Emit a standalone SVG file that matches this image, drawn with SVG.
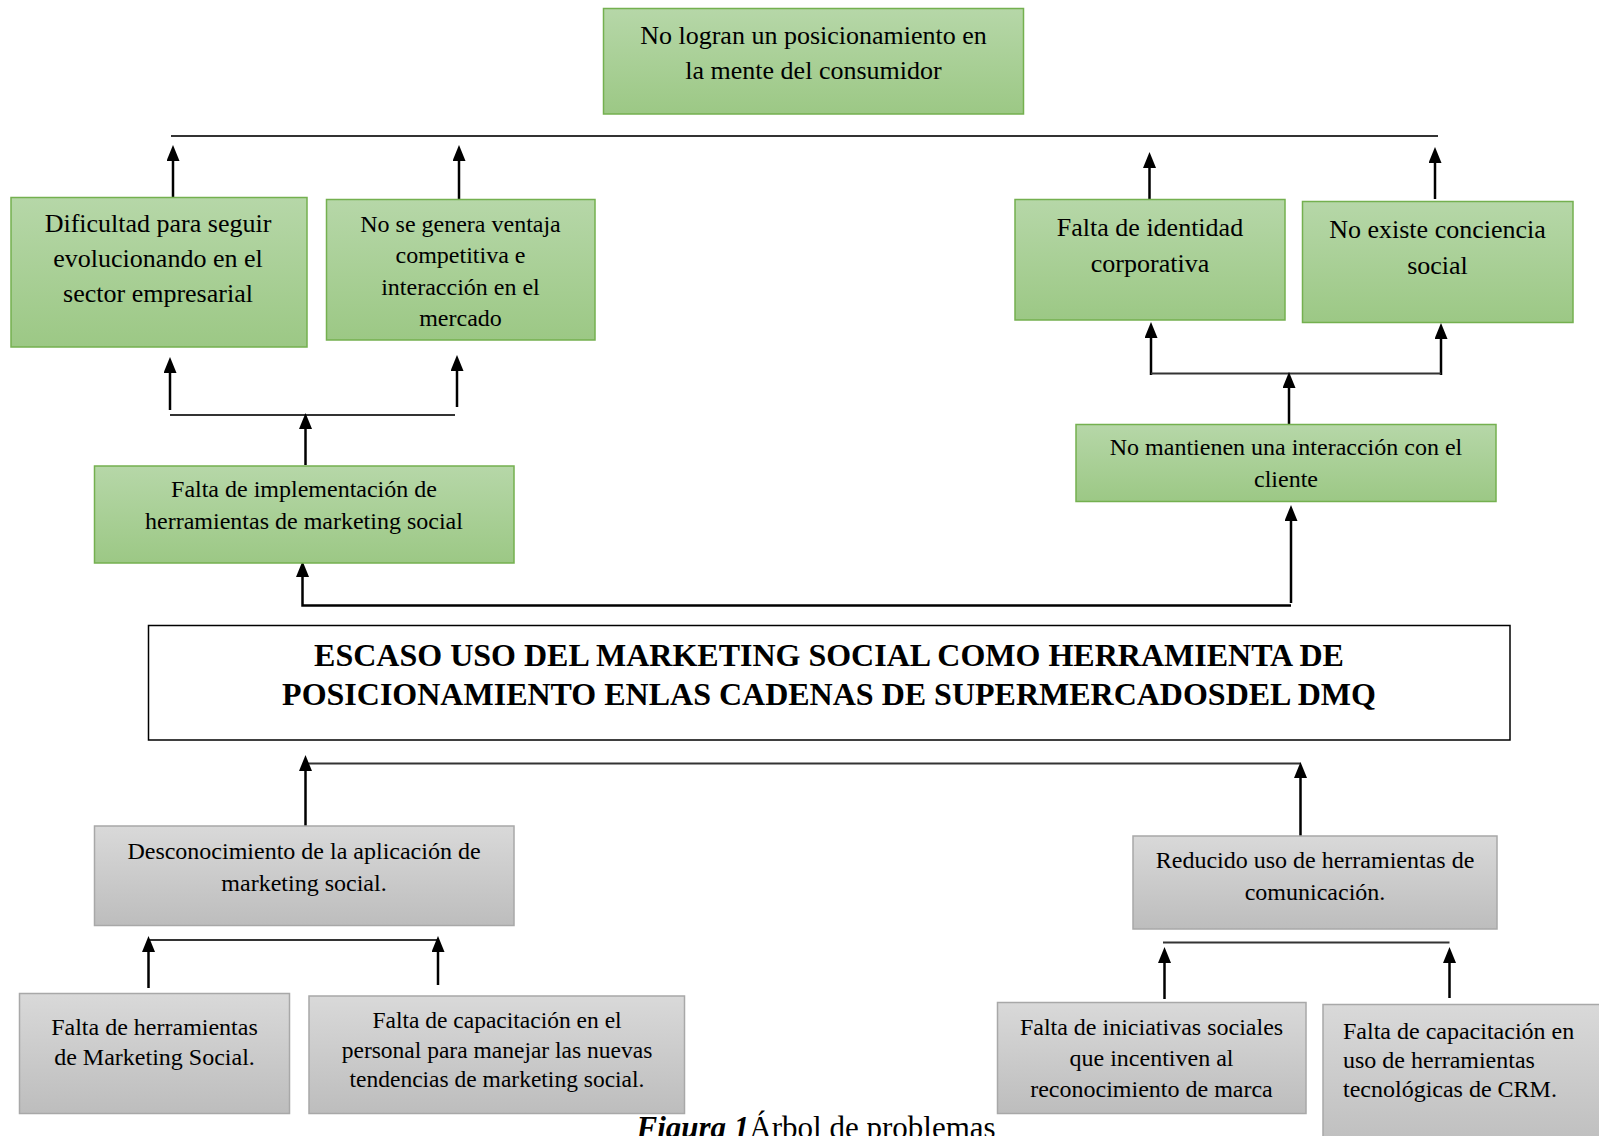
<svg xmlns="http://www.w3.org/2000/svg" width="1599" height="1136" viewBox="0 0 1599 1136">
<defs>
<linearGradient id="gGreen" x1="0" y1="0" x2="0" y2="1">
<stop offset="0" stop-color="#b6d7a8"/>
<stop offset="1" stop-color="#9cc885"/>
</linearGradient>
<linearGradient id="gGray" x1="0" y1="0" x2="0" y2="1">
<stop offset="0" stop-color="#d9d9d9"/>
<stop offset="1" stop-color="#bdbdbd"/>
</linearGradient>
<marker id="ah" viewBox="0 0 16 13" refX="0" refY="6.5" markerWidth="16" markerHeight="13" markerUnits="userSpaceOnUse" orient="auto">
<path d="M0,0 L16,6.5 L0,13 Z" fill="#000"/>
</marker>
</defs>
<style>
.green{fill:url(#gGreen);stroke:#74b04f;stroke-width:1.5}
.gray{fill:url(#gGray);stroke:#a8a8a8;stroke-width:1.5}
.main{fill:#fff;stroke:#000;stroke-width:1.5}
text{font-family:"Liberation Serif","Times New Roman",serif;fill:#000}
.t26{font-size:26px;text-anchor:middle}
.t24{font-size:24px;text-anchor:middle}
.t23{font-size:23.5px;text-anchor:middle}
.tl{font-size:24px}
.title{font-size:32px;font-weight:bold;text-anchor:middle}
.arr{stroke:#000;stroke-width:2.5;fill:none}
.hl{stroke:#333;stroke-width:2;fill:none}
</style>
<rect width="1599" height="1136" fill="#fff"/>

<g id="connectors">
<line class="hl" x1="171" y1="136" x2="1438" y2="136"/>
<path class="arr" d="M173,197 V161" marker-end="url(#ah)"/>
<path class="arr" d="M459,199 V161" marker-end="url(#ah)"/>
<path class="arr" d="M1149.5,199 V168" marker-end="url(#ah)"/>
<path class="arr" d="M1435,199 V163" marker-end="url(#ah)"/>

<path class="arr" d="M170,410 V373" marker-end="url(#ah)"/>
<path class="arr" d="M457,407 V371" marker-end="url(#ah)"/>
<line class="hl" x1="170" y1="415" x2="455" y2="415"/>
<path class="arr" d="M305.5,465 V429" marker-end="url(#ah)"/>

<path class="arr" d="M1291,605.5 H302.5 V577" marker-end="url(#ah)"/>
<path class="arr" d="M1291,603 V521" marker-end="url(#ah)"/>

<path class="arr" d="M1151,375 V338" marker-end="url(#ah)"/>
<path class="arr" d="M1441,375 V339" marker-end="url(#ah)"/>
<line class="hl" x1="1151" y1="373.5" x2="1441" y2="373.5"/>
<path class="arr" d="M1289,424 V388" marker-end="url(#ah)"/>

<line class="hl" x1="305.5" y1="763.5" x2="1300.5" y2="763.5"/>
<path class="arr" d="M305.5,826 V771" marker-end="url(#ah)"/>
<path class="arr" d="M1300.5,836 V778" marker-end="url(#ah)"/>

<line class="hl" x1="148.5" y1="940" x2="438" y2="940"/>
<path class="arr" d="M148.5,988 V952" marker-end="url(#ah)"/>
<path class="arr" d="M438,985 V952" marker-end="url(#ah)"/>

<line class="hl" x1="1163" y1="942.5" x2="1449.5" y2="942.5"/>
<path class="arr" d="M1164.5,999 V963" marker-end="url(#ah)"/>
<path class="arr" d="M1449.5,998 V963" marker-end="url(#ah)"/>
</g>

<g id="n-top">
<rect class="green" x="603.5" y="8.5" width="420" height="105.5"/>
<text class="t26" x="813.5" y="44">No logran un posicionamiento en</text>
<text class="t26" x="813.5" y="78.5">la mente del consumidor</text>
</g>

<g id="n-dificultad">
<rect class="green" x="11" y="197.5" width="296" height="149.5"/>
<text class="t26" x="158" y="231.5">Dificultad para seguir</text>
<text class="t26" x="158" y="267">evolucionando en el</text>
<text class="t26" x="158" y="301.5">sector empresarial</text>
</g>

<g id="n-ventaja">
<rect class="green" x="326.5" y="199.5" width="268.5" height="140.5"/>
<text class="t24" x="460.5" y="231.5">No se genera ventaja</text>
<text class="t24" x="460.5" y="263">competitiva e</text>
<text class="t24" x="460.5" y="294.5">interacción en el</text>
<text class="t24" x="460.5" y="325.5">mercado</text>
</g>

<g id="n-identidad">
<rect class="green" x="1015" y="199.5" width="270" height="120.5"/>
<text class="t26" x="1150" y="235.5">Falta de identidad</text>
<text class="t26" x="1150" y="272">corporativa</text>
</g>

<g id="n-conciencia">
<rect class="green" x="1302.5" y="201.5" width="270.5" height="121"/>
<text class="t26" x="1437.5" y="237.5">No existe conciencia</text>
<text class="t26" x="1437.5" y="273.5">social</text>
</g>

<g id="n-implementacion">
<rect class="green" x="94.5" y="466" width="419.5" height="97"/>
<text class="t24" x="304" y="497">Falta de implementación de</text>
<text class="t24" x="304" y="529">herramientas de marketing social</text>
</g>

<g id="n-interaccion">
<rect class="green" x="1076" y="424.5" width="420" height="77"/>
<text class="t24" x="1286" y="455">No mantienen una interacción con el</text>
<text class="t24" x="1286" y="487">cliente</text>
</g>

<g id="n-main">
<rect class="main" x="148.5" y="625.5" width="1361.5" height="114.5"/>
<text class="title" x="829" y="666">ESCASO USO DEL MARKETING SOCIAL COMO HERRAMIENTA DE</text>
<text class="title" x="829" y="705">POSICIONAMIENTO ENLAS CADENAS DE SUPERMERCADOSDEL DMQ</text>
</g>

<g id="n-desconocimiento">
<rect class="gray" x="94.5" y="826" width="419.5" height="99.5"/>
<text class="t24" x="304" y="859">Desconocimiento de la aplicación de</text>
<text class="t24" x="304" y="890.5">marketing social.</text>
</g>

<g id="n-reducido">
<rect class="gray" x="1133" y="836" width="364" height="93"/>
<text class="t24" x="1315" y="868">Reducido uso de herramientas de</text>
<text class="t24" x="1315" y="900">comunicación.</text>
</g>

<g id="n-falta-herr">
<rect class="gray" x="19.5" y="993.5" width="270" height="120"/>
<text class="t24" x="154.5" y="1035">Falta de herramientas</text>
<text class="t24" x="154.5" y="1064.5">de Marketing Social.</text>
</g>

<g id="n-capacitacion">
<rect class="gray" x="309" y="996" width="375.5" height="117.5"/>
<text class="t23" x="497" y="1027.5">Falta de capacitación en el</text>
<text class="t23" x="497" y="1057.5">personal para manejar las nuevas</text>
<text class="t23" x="497" y="1087">tendencias de marketing social.</text>
</g>

<g id="n-iniciativas">
<rect class="gray" x="997.5" y="1002.5" width="308.5" height="111"/>
<text class="t24" x="1151.5" y="1035">Falta de iniciativas sociales</text>
<text class="t24" x="1151.5" y="1066">que incentiven al</text>
<text class="t24" x="1151.5" y="1097">reconocimiento de marca</text>
</g>

<g id="n-crm">
<rect class="gray" x="1323" y="1004.5" width="290" height="150"/>
<text class="tl" x="1343" y="1039">Falta de capacitación en</text>
<text class="tl" x="1343" y="1068">uso de herramientas</text>
<text class="tl" x="1343" y="1097">tecnológicas de CRM.</text>
</g>

<text x="636.5" y="1138" style="font-size:31px"><tspan font-weight="bold" font-style="italic">Figura 1</tspan>Árbol de problemas</text>
</svg>
